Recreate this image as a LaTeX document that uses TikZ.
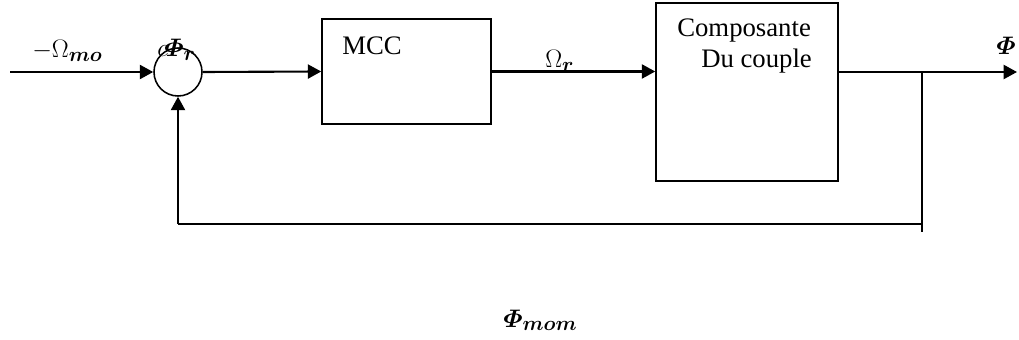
\RequirePackage{fix-cm}
\documentclass[tikz,border=0pt]{standalone}
\usepackage{amsmath,bm}
\usepackage{fontspec}
\setmainfont{Liberation Serif}
\usetikzlibrary{arrows.meta}
\DeclareMathSizes{18}{18}{14.5}{11}

\begin{document}
\begin{tikzpicture}[x=0.025cm,y=-0.025cm,
    sig/.style={line width=1.5pt,-{Triangle[length=9.5pt,width=10pt]}},
    wire/.style={line width=1.2pt},
    bloc/.style={draw,line width=1.1pt,inner sep=0pt},
    txt/.style={anchor=base west,inner sep=0pt,font=\fontsize{19}{23}\selectfont},
    mth/.style={anchor=base west,inner sep=0pt,font=\fontsize{18}{22}\selectfont}]
        \useasboundingbox (0,0) rectangle (1019,340);
        % blocs
        \node[bloc,circle,minimum size=1.2cm] (S) at (178,72) {};
        \node[bloc,minimum width=4.225cm,minimum height=2.625cm] (M) at (406.5,71.5) {};
        \node[bloc,minimum width=4.55cm,minimum height=4.45cm] (C) at (747,92) {};
        \node[txt] (mcc) at (342,55) {MCC};
        \node[txt] (comp) at (677,37) {Composante};
        \node[txt] (du) at (701,68) {Du couple};
        % points
        \coordinate (in) at (10,72);
        \coordinate (out) at (1017,72);
        \coordinate (tap) at (922,72);
        \coordinate (tapend) at (922,232);
        \coordinate (corner) at (178,224);
        % signaux
        \draw[sig] (in) -- (S.west);
        \draw[sig] (S.east) -- (M.west);
        \draw[sig] (M.east) -- (M.east -| C.west);
        \draw[sig] (C.east |- out) -- (out);
        \draw[wire] (tap) -- (tapend);
        \draw[wire] (tap |- corner) -- (corner);
        \draw[sig] (corner) -- (S.south);
        % labels
        \node[mth] (omo) at (32,58) {$-\Omega_{\bm{mo}}$};
        \node[mth] (c) at (157,57) {$c$};
        \node[mth] (phir) at (164,57) {$\bm{\varPhi_r}$};
        \node[mth] (omr) at (545,68) {$\Omega_{\bm{r}}$};
        \node[mth] (phi) at (996,55) {$\bm{\varPhi}$};
        \node[mth] (phimom) at (503,327) {$\bm{\varPhi_{mom}}$};
\end{tikzpicture}
\end{document}
